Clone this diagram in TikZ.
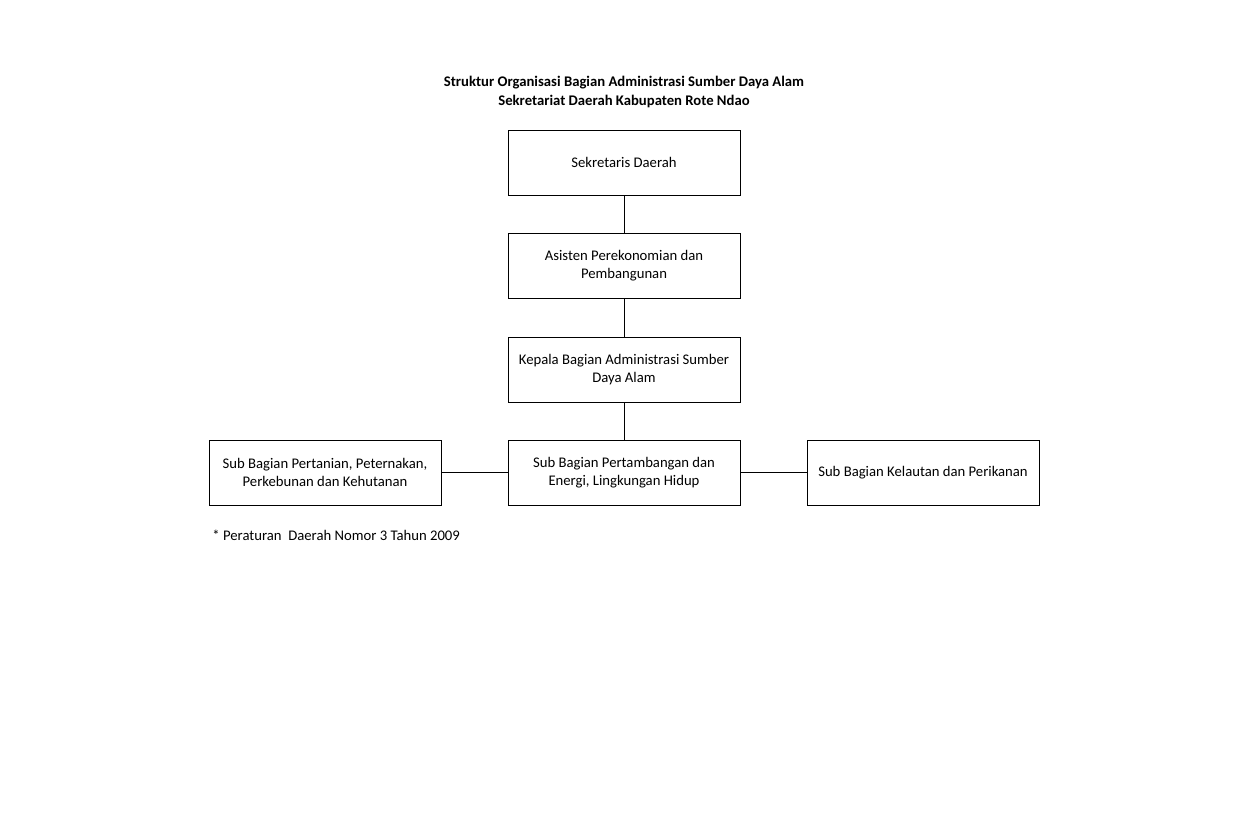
\documentclass[tikz,border=0pt]{standalone}
\usepackage{fontspec}
\setmainfont{Carlito}
\begin{document}
\begin{tikzpicture}[x=0.5pt,y=-0.5pt,
  orgbox/.style={draw,line width=0.5pt,minimum width=116pt,minimum height=32.5pt,inner sep=0pt,align=center,font=\fontsize{7.35}{9}\selectfont},
  link/.style={line width=0.5pt}]
\useasboundingbox[fill=white] (0,0) rectangle (1248,816);
\node[font=\bfseries\fontsize{7.35}{9.5}\selectfont,align=center] (title) at (624,91.5) {Struktur Organisasi Bagian Administrasi Sumber Daya Alam\\Sekretariat Daerah Kabupaten Rote Ndao};
\node[orgbox] (sekda) at (624,162.5) {Sekretaris Daerah};
\node[orgbox] (asisten) at (624,265.5) {Asisten Perekonomian dan\\Pembangunan};
\node[orgbox] (kabag) at (624,369.5) {Kepala Bagian Administrasi Sumber\\Daya Alam};
\node[orgbox] (tambang) at (624,472.5) {Sub Bagian Pertambangan dan\\Energi, Lingkungan Hidup};
\node[orgbox] (tani) at (325,472.5) {Sub Bagian Pertanian, Peternakan,\\Perkebunan dan Kehutanan};
\node[orgbox] (laut) at (923,472.5) {Sub Bagian Kelautan dan Perikanan};
\node[anchor=west,inner sep=0pt,font=\fontsize{7.35}{9}\selectfont] (note) at (212,535) {* Peraturan\ \ Daerah Nomor 3 Tahun 2009};
\draw[link] (sekda) -- (asisten);
\draw[link] (asisten) -- (kabag);
\draw[link] (kabag) -- (tambang);
\draw[link] (tani) -- (tambang);
\draw[link] (tambang) -- (laut);
\end{tikzpicture}
\end{document}
